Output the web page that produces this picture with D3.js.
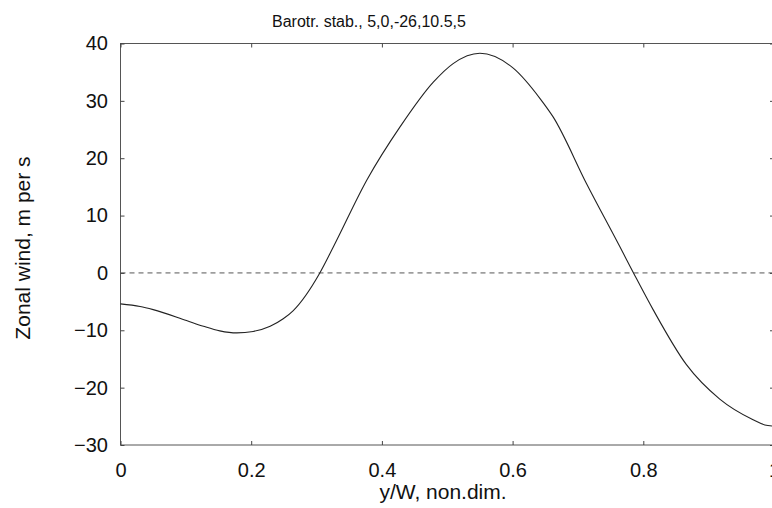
<!DOCTYPE html>
<html><head><meta charset="utf-8">
<script src="https://cdn.jsdelivr.net/npm/d3@7"></script>
<style>body{margin:0;background:#fff}svg{display:block}text{font-family:"Liberation Sans",Arial,sans-serif;fill:#111}</style>
</head><body><svg id="c" width="772" height="508"></svg>
<script>
const titleText = "Barotr. stab., 5,0,-26,10.5,5";
const xLabel = "y/W, non.dim.";
const yLabel = "Zonal wind, m per s";
const xTicks = [0, 0.2, 0.4, 0.6, 0.8, 1];
const xTickLabels = ["0", "0.2", "0.4", "0.6", "0.8", "1"];
const yTicks = [40, 30, 20, 10, 0, -10, -20, -30];
const yPos = [0, 0.03, 0.05, 0.101, 0.127, 0.152, 0.178, 0.203, 0.229, 0.249, 0.264, 0.305, 0.326, 0.377, 0.428, 0.479, 0.509, 0.55, 0.601, 0.642, 0.662, 0.713, 0.764, 0.785, 0.815, 0.866, 0.917, 0.968, 0.986, 1.0];
const wind = [-5.4, -5.85, -6.4, -8.3, -9.3, -10.1, -10.45, -10.2, -9.3, -8.0, -6.6, 0, 4.6, 16.2, 25.5, 33.3, 36.5, 38.3, 35.7, 30.4, 27.2, 15.6, 4.6, 0, -6.4, -16.0, -22.0, -25.6, -26.5, -26.7];

const svg = d3.select("#c");
const L = 120.5, R = 774, T = 43.5, B = 445;
const x = d3.scaleLinear().domain([0, 1]).range([L, R]);
const y = d3.scaleLinear().domain([-30, 40]).range([B, T]);
const g = svg.append("g");
const FONT = "Liberation Sans, Arial, sans-serif";

// zero line
g.append("line").attr("x1", L).attr("x2", R).attr("y1", y(0)).attr("y2", y(0))
  .attr("stroke", "#555").attr("stroke-width", 1).attr("stroke-dasharray", "5,4");

// frame
g.append("rect").attr("x", L).attr("y", T).attr("width", R - L).attr("height", B - T)
  .attr("fill", "none").attr("stroke", "#555").attr("stroke-width", 1);

g.append("g").attr("transform", `translate(0,${B})`)
  .call(d3.axisBottom(x).tickValues(xTicks).tickFormat((d, i) => xTickLabels[i]).tickSizeInner(-4).tickSizeOuter(0).tickPadding(18))
  .call(s => { s.select(".domain").remove(); s.selectAll("line").attr("stroke", "#444");
    s.selectAll("text").attr("font-size", "20px").attr("fill", "#111").attr("font-family", FONT); });
g.append("g").attr("transform", `translate(0,${T})`)
  .call(d3.axisTop(x).tickValues(xTicks).tickFormat("").tickSizeInner(-4).tickSizeOuter(0))
  .call(s => { s.select(".domain").remove(); s.selectAll("line").attr("stroke", "#444"); });
g.append("g").attr("transform", `translate(${L},0)`)
  .call(d3.axisLeft(y).tickValues(yTicks).tickFormat(d3.format("d")).tickSizeInner(-4).tickSizeOuter(0).tickPadding(12.5))
  .call(s => { s.select(".domain").remove(); s.selectAll("line").attr("stroke", "#444");
    s.selectAll("text").attr("font-size", "20px").attr("fill", "#111").attr("font-family", FONT); });
g.append("g").attr("transform", `translate(${R},0)`)
  .call(d3.axisRight(y).tickValues(yTicks).tickFormat("").tickSizeInner(-4).tickSizeOuter(0))
  .call(s => { s.select(".domain").remove(); s.selectAll("line").attr("stroke", "#444"); });

// curve
const pts = yPos.map((v, i) => [v, wind[i]]);
g.append("path").datum(pts)
  .attr("d", d3.line().x(d => x(d[0])).y(d => y(d[1])).curve(d3.curveMonotoneX))
  .attr("fill", "none").attr("stroke", "#222").attr("stroke-width", 1.1);

// texts
svg.append("text").attr("x", 369).attr("y", 27).attr("text-anchor", "middle").attr("font-size", "16px").text(titleText);
svg.append("text").attr("x", 443).attr("y", 499).attr("text-anchor", "middle").attr("font-size", "21px").text(xLabel);
svg.append("text").attr("transform", "translate(30,248) rotate(-90)").attr("text-anchor", "middle").attr("font-size", "21px").text(yLabel);
</script></body></html>
